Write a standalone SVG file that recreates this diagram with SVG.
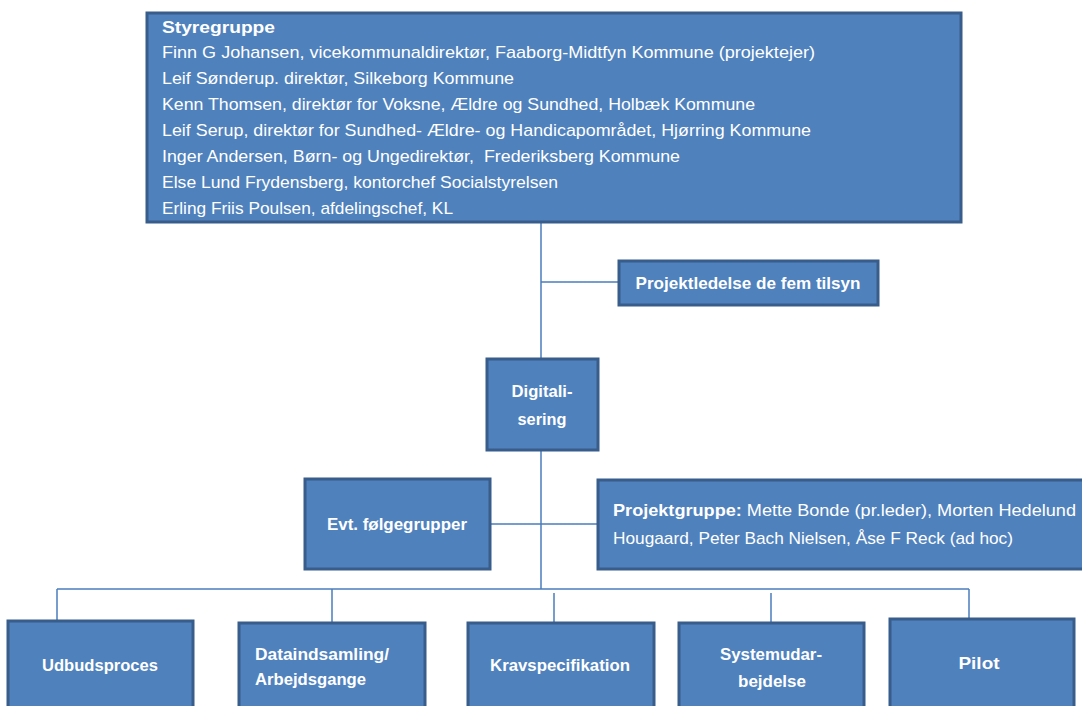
<svg xmlns="http://www.w3.org/2000/svg" width="1082" height="706" viewBox="0 0 1082 706">
<style>
.box{fill:#4f81bd;stroke:#385d8a;stroke-width:3}
.t{font-family:"Liberation Sans",Arial,sans-serif;font-size:17px;fill:#ffffff}
.b{font-weight:bold}
.c{text-anchor:middle}
.ln{stroke:#4a7ebb;stroke-width:1.5;fill:none}
</style>
<rect width="1082" height="706" fill="#ffffff"/>
<g id="connectors">
<path class="ln" d="M541,222 V359 M541,282 H619 M541,450 V589 M490,524 H598 M57,589 H969 M57,589 V621 M332,589 V623 M554,593 V623 M771,593 V622 M969,589 V619"/>
</g>
<g id="styregruppe">
<rect class="box" x="147" y="13" width="814" height="209"/>
<text class="t b" x="162" y="33" textLength="113" lengthAdjust="spacingAndGlyphs">Styregruppe</text>
<text class="t" x="162" y="58" textLength="653" lengthAdjust="spacingAndGlyphs">Finn G Johansen, vicekommunaldirektør, Faaborg-Midtfyn Kommune (projektejer)</text>
<text class="t" x="162" y="84" textLength="352" lengthAdjust="spacingAndGlyphs">Leif Sønderup. direktør, Silkeborg Kommune</text>
<text class="t" x="162" y="110" textLength="593" lengthAdjust="spacingAndGlyphs">Kenn Thomsen, direktør for Voksne, Ældre og Sundhed, Holbæk Kommune</text>
<text class="t" x="162" y="136" textLength="649" lengthAdjust="spacingAndGlyphs">Leif Serup, direktør for Sundhed- Ældre- og Handicapområdet, Hjørring Kommune</text>
<text class="t" x="162" y="162" textLength="518" lengthAdjust="spacingAndGlyphs" xml:space="preserve">Inger Andersen, Børn- og Ungedirektør,  Frederiksberg Kommune</text>
<text class="t" x="162" y="188" textLength="396" lengthAdjust="spacingAndGlyphs">Else Lund Frydensberg, kontorchef Socialstyrelsen</text>
<text class="t" x="162" y="214" textLength="291" lengthAdjust="spacingAndGlyphs">Erling Friis Poulsen, afdelingschef, KL</text>
</g>
<g id="projektledelse">
<rect class="box" x="619" y="261" width="259" height="44"/>
<text class="t b c" x="748" y="289" textLength="225" lengthAdjust="spacingAndGlyphs">Projektledelse de fem tilsyn</text>
</g>
<g id="digitalisering">
<rect class="box" x="487" y="359" width="111" height="91"/>
<text class="t b c" x="542" y="397" textLength="61" lengthAdjust="spacingAndGlyphs">Digitali-</text>
<text class="t b c" x="542" y="425" textLength="49" lengthAdjust="spacingAndGlyphs">sering</text>
</g>
<g id="foelgegrupper">
<rect class="box" x="305" y="479" width="185" height="90"/>
<text class="t b c" x="397" y="530" textLength="140" lengthAdjust="spacingAndGlyphs">Evt. følgegrupper</text>
</g>
<g id="projektgruppe">
<rect class="box" x="598" y="480" width="490" height="89"/>
<text class="t" x="613" y="516" textLength="463" lengthAdjust="spacingAndGlyphs"><tspan class="b">Projektgruppe:</tspan> Mette Bonde (pr.leder), Morten Hedelund</text>
<text class="t" x="613" y="544" textLength="400" lengthAdjust="spacingAndGlyphs">Hougaard, Peter Bach Nielsen, Åse F Reck (ad hoc)</text>
</g>
<g id="udbudsproces">
<rect class="box" x="8" y="621" width="185" height="100"/>
<text class="t b c" x="100" y="671" textLength="116" lengthAdjust="spacingAndGlyphs">Udbudsproces</text>
</g>
<g id="dataindsamling">
<rect class="box" x="239" y="623" width="186" height="100"/>
<text class="t b" x="255" y="660" textLength="134" lengthAdjust="spacingAndGlyphs">Dataindsamling/</text>
<text class="t b" x="255" y="685" textLength="111" lengthAdjust="spacingAndGlyphs">Arbejdsgange</text>
</g>
<g id="kravspecifikation">
<rect class="box" x="468" y="623" width="186" height="100"/>
<text class="t b c" x="560" y="671" textLength="140" lengthAdjust="spacingAndGlyphs">Kravspecifikation</text>
</g>
<g id="systemudarbejdelse">
<rect class="box" x="679" y="623" width="185" height="100"/>
<text class="t b c" x="771" y="660" textLength="102" lengthAdjust="spacingAndGlyphs">Systemudar-</text>
<text class="t b c" x="772" y="687" textLength="68" lengthAdjust="spacingAndGlyphs">bejdelse</text>
</g>
<g id="pilot">
<rect class="box" x="890" y="619" width="184" height="100"/>
<text class="t b c" x="979" y="669" textLength="41" lengthAdjust="spacingAndGlyphs">Pilot</text>
</g>
</svg>
